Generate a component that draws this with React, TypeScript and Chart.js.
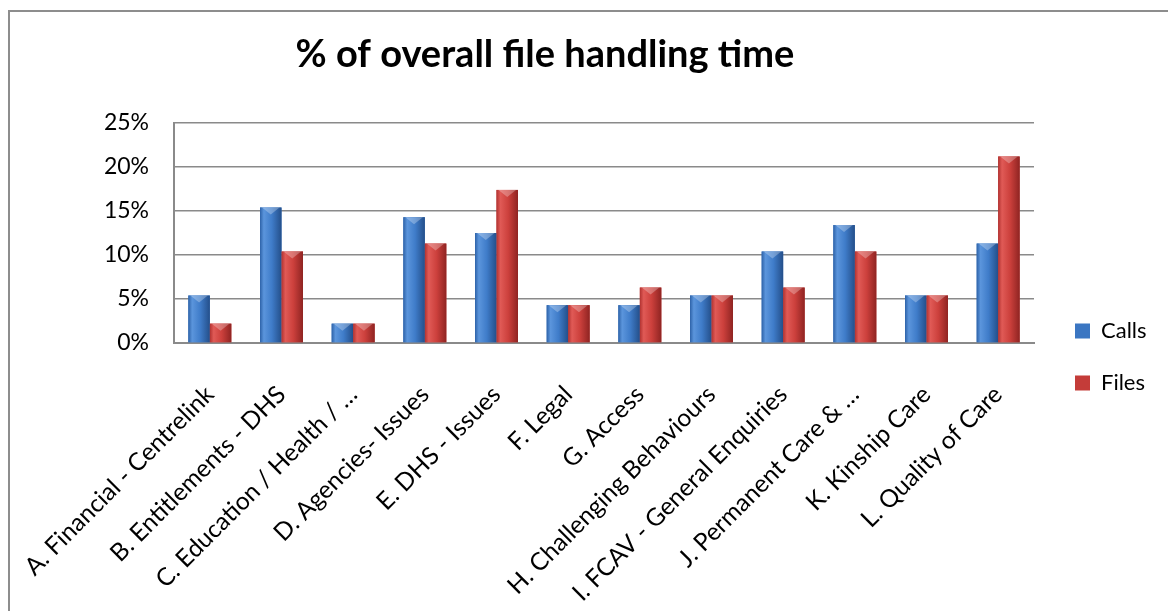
import React, { useEffect, useRef } from "react";
import { Chart, registerables } from "chart.js";

Chart.register(...registerables);

const chartTitle = "% of overall file handling time";
const categories = [
  "A. Financial - Centrelink",
  "B. Entitlements - DHS",
  "C. Education / Health / …",
  "D. Agencies- Issues",
  "E. DHS - Issues",
  "F. Legal",
  "G. Access",
  "H. Challenging Behaviours",
  "I. FCAV - General Enquiries",
  "J. Permanent Care & …",
  "K. Kinship Care",
  "L. Quality of Care",
];
const seriesNames = ["Calls", "Files"];
const callsValues = [5.4, 15.4, 2.2, 14.3, 12.5, 4.3, 4.3, 5.4, 10.4, 13.4, 5.4, 11.3];
const filesValues = [2.2, 10.4, 2.2, 11.3, 17.4, 4.3, 6.3, 5.4, 6.3, 10.4, 5.4, 21.2];
const yTickValues = [0, 5, 10, 15, 20, 25];

const W = 1168;
const H = 611;
const FONT = "Lato, 'Open Sans', sans-serif";

const shades = [
  ["#5b95dc", "#3f7cc9", "#2d62a8", "#244f8a"],
  ["#e05a56", "#cc403c", "#b13230", "#8f2422"],
];
const solid = ["#3b76c2", "#c43c39"];

const barShade = {
  id: "barShade",
  afterDatasetsDraw(chart: any) {
    const ctx = chart.ctx;
    ctx.save();
    chart.data.datasets.forEach((_: any, di: number) => {
      const meta = chart.getDatasetMeta(di);
      const st = shades[di];
      meta.data.forEach((bar: any) => {
        const { x, y, base, width } = bar.getProps(["x", "y", "base", "width"], true);
        const l = x - width / 2;
        const r = x + width / 2;
        const g = ctx.createLinearGradient(l, 0, r, 0);
        g.addColorStop(0, st[2]);
        g.addColorStop(0.18, st[0]);
        g.addColorStop(0.55, st[1]);
        g.addColorStop(1, st[3]);
        ctx.fillStyle = g;
        ctx.fillRect(l, y, width, base - y);
        const hh = Math.min(7, (base - y) / 2);
        ctx.beginPath();
        ctx.moveTo(l + 2, y);
        ctx.lineTo(r - 2, y);
        ctx.lineTo(x, y + hh);
        ctx.closePath();
        ctx.fillStyle = "rgba(255,255,255,0.28)";
        ctx.fill();
      });
    });
    ctx.restore();
  },
};

const placeBoxes = {
  id: "placeBoxes",
  afterLayout(chart: any) {
    const t = chart.titleBlock;
    if (t) {
      const w = t.right - t.left;
      t.left = 545 - w / 2;
      t.right = 545 + w / 2;
    }
    const lg = chart.legend;
    if (lg) {
      const w = lg.width;
      lg.left = 1045;
      lg.right = 1045 + w;
      lg.top = 290;
      lg.bottom = 290 + 250;
    }
  },
};

export default function App() {
  const ref = useRef<HTMLCanvasElement | null>(null);

  useEffect(() => {
    if (!ref.current) return;
    const chart = new Chart(ref.current, {
      type: "bar",
      data: {
        labels: categories,
        datasets: [
          {
            label: seriesNames[0],
            data: callsValues,
            backgroundColor: solid[0],
            borderWidth: 0,
            categoryPercentage: 0.6,
            barPercentage: 1,
          },
          {
            label: seriesNames[1],
            data: filesValues,
            backgroundColor: solid[1],
            borderWidth: 0,
            categoryPercentage: 0.6,
            barPercentage: 1,
          },
        ],
      },
      options: {
        responsive: false,
        animation: false,
        devicePixelRatio: 1,
        layout: { padding: { left: 0, right: 134, top: 0, bottom: 0 } },
        plugins: {
          tooltip: { enabled: false },
          title: {
            display: true,
            text: chartTitle,
            color: "#000",
            font: { family: FONT, size: 38, weight: "bold", lineHeight: 1.2 },
            padding: { top: 32, bottom: 45.4 },
          },
          legend: {
            position: "chartArea",
            align: "start",
            labels: {
              color: "#000",
              font: { family: FONT, size: 22 },
              boxWidth: 15,
              boxHeight: 15,
              padding: 30,
            },
          },
        },
        scales: {
          x: {
            afterFit: (s: any) => {
              s.height = H - 343;
              s.paddingLeft = 0;
              s.paddingRight = 0;
            },
            grid: { display: false, drawTicks: false },
            border: { display: true, color: "#8a8a8a", width: 2 },
            ticks: {
              autoSkip: false,
              minRotation: 45,
              maxRotation: 45,
              padding: 37,
              color: "#000",
              font: { family: FONT, size: 24.5 },
            },
          },
          y: {
            min: 0,
            max: 25,
            afterFit: (s: any) => {
              s.width = 174;
            },
            afterBuildTicks: (s: any) => {
              s.ticks = yTickValues.map((v) => ({ value: v }));
            },
            grid: { color: "#8a8a8a", lineWidth: 1.5, drawTicks: false },
            border: { display: true, color: "#8a8a8a", width: 2 },
            ticks: {
              padding: 25,
              color: "#000",
              font: { family: FONT, size: 23 },
              callback: (v: any) => v + "%",
            },
          },
        },
      },
      plugins: [barShade, placeBoxes],
    });
    return () => chart.destroy();
  }, []);

  return (
    <div style={{ position: "fixed", inset: 0, overflow: "hidden", background: "#fff" }}>
      <div
        style={{
          position: "absolute",
          left: 8,
          top: 10,
          width: 1400,
          height: 900,
          border: "2px solid #8d8d8d",
        }}
      />
      <canvas
        ref={ref}
        width={W}
        height={H}
        style={{ position: "absolute", left: 0, top: 0, width: W, height: H }}
      />
    </div>
  );
}
